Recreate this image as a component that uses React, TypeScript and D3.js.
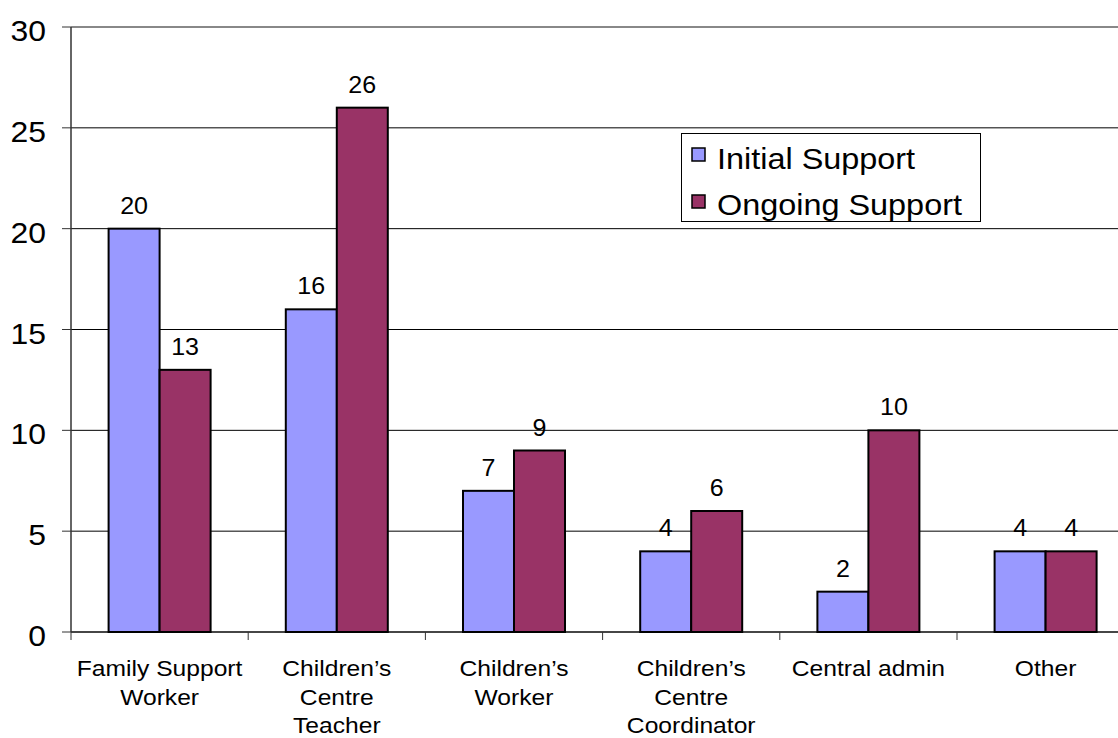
import React from "react";
import * as d3 from "d3";

const categories: string[][] = [
  ["Family Support", "Worker"],
  ["Children\u2019s", "Centre", "Teacher"],
  ["Children\u2019s", "Worker"],
  ["Children\u2019s", "Centre", "Coordinator"],
  ["Central admin"],
  ["Other"],
];
const initialSupport = [20, 16, 7, 4, 2, 4];
const ongoingSupport = [13, 26, 9, 6, 10, 4];
const yTicks = [0, 5, 10, 15, 20, 25, 30];
const seriesNames = ["Initial Support", "Ongoing Support"];
const seriesColors = ["#9999FF", "#993366"];

const W = 1118;
const H = 738;
const left = 71;
const step = 177.2;
const y0 = 632;
const y30 = 27;
const barW = 51;
const FONT = "'Liberation Sans', Arial, sans-serif";

function SText({
  x,
  y,
  sx,
  anchor,
  size,
  children,
}: {
  x: number;
  y: number;
  sx: number;
  anchor: "start" | "middle" | "end";
  size: number;
  children: React.ReactNode;
}) {
  return (
    <text
      transform={`translate(${x},${y}) scale(${sx},1)`}
      textAnchor={anchor}
      fontSize={size}
      fill="#000"
    >
      {children}
    </text>
  );
}

export default function App() {
  const keys = categories.map((c, i) => String(i));
  const x = d3
    .scaleBand<string>()
    .domain(keys)
    .range([left, left + step * categories.length])
    .padding(0);
  const y = d3.scaleLinear().domain([0, 30]).range([y0, y30]);
  const series = [initialSupport, ongoingSupport];

  return (
    <svg
      width={W}
      height={H}
      style={{ position: "absolute", left: 0, top: 0, background: "#fff" }}
      fontFamily={FONT}
    >
      {/* gridlines */}
      {yTicks.map((t) => (
        <line
          key={"g" + t}
          x1={left}
          x2={W}
          y1={y(t)}
          y2={y(t)}
          stroke={t === 30 ? "#888" : "#000"}
          strokeWidth={t === 30 ? 2 : 1}
        />
      ))}
      {/* y axis */}
      <line x1={left} x2={left} y1={y(30)} y2={y(0)} stroke="#333" strokeWidth={1.5} />
      {yTicks.map((t) => (
        <g key={"yt" + t}>
          <line x1={left - 9} x2={left} y1={y(t)} y2={y(t)} stroke="#333" strokeWidth={1} />
          <SText x={46} y={y(t) + 14} sx={1.1} anchor="end" size={29}>
            {t}
          </SText>
        </g>
      ))}
      {/* x axis */}
      <line x1={left} x2={W} y1={y(0)} y2={y(0)} stroke="#333" strokeWidth={1.5} />
      {keys.map((k) => (
        <line
          key={"xt" + k}
          x1={x(k)!}
          x2={x(k)!}
          y1={y(0)}
          y2={y(0) + 8}
          stroke="#333"
          strokeWidth={1}
        />
      ))}
      {/* bars */}
      {keys.map((k, i) => {
        const cx = x(k)! + x.bandwidth() / 2;
        return (
          <g key={"b" + k}>
            {series.map((s, j) => {
              const bx = cx - barW + j * barW;
              return (
                <g key={j}>
                  <rect
                    x={bx}
                    y={y(s[i])}
                    width={barW}
                    height={y(0) - y(s[i])}
                    fill={seriesColors[j]}
                    stroke="#000"
                    strokeWidth={2}
                  />
                  <SText x={bx + barW / 2} y={y(s[i]) - 15} sx={1.09} anchor="middle" size={23}>
                    {s[i]}
                  </SText>
                </g>
              );
            })}
          </g>
        );
      })}
      {/* category labels */}
      {keys.map((k, i) => {
        const cx = x(k)! + x.bandwidth() / 2;
        return (
          <g key={"c" + k}>
            {categories[i].map((line, li) => (
              <SText key={li} x={cx} y={676 + li * 28.5} sx={1.12} anchor="middle" size={22}>
                {line}
              </SText>
            ))}
          </g>
        );
      })}
      {/* legend */}
      <g>
        <rect x={681.5} y={133.5} width={299} height={88} fill="#fff" stroke="#000" strokeWidth={1} />
        {seriesNames.map((n, j) => (
          <g key={n}>
            <rect
              x={692}
              y={148 + j * 47}
              width={13}
              height={13}
              fill={seriesColors[j]}
              stroke="#000"
              strokeWidth={1.5}
            />
            <SText x={717} y={169 + j * 46} sx={1.08} anchor="start" size={30}>
              {n}
            </SText>
          </g>
        ))}
      </g>
    </svg>
  );
}
